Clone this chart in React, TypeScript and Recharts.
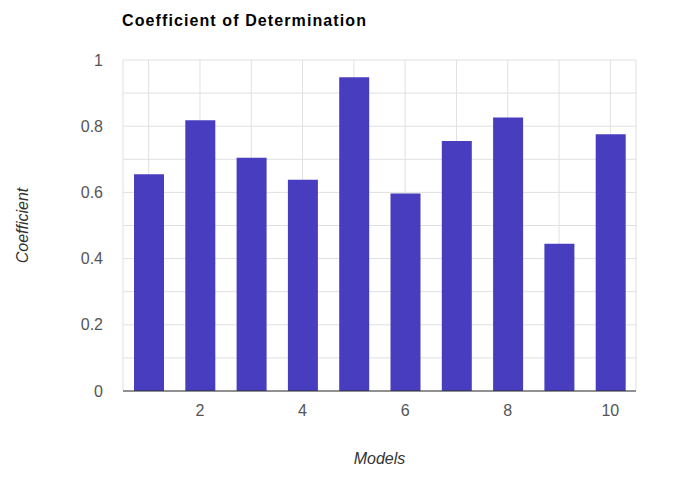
import React from 'react';
import { BarChart, Bar, XAxis, YAxis, CartesianGrid, Label } from 'recharts';

const models = [1, 2, 3, 4, 5, 6, 7, 8, 9, 10];
const coefficients = [0.655, 0.818, 0.705, 0.638, 0.948, 0.597, 0.755, 0.826, 0.445, 0.776];
const xTicks = [1, 2, 3, 4, 5, 6, 7, 8, 9, 10];
const yTicks = [0, 0.1, 0.2, 0.3, 0.4, 0.5, 0.6, 0.7, 0.8, 0.9, 1];

const data = models.map((m, i) => ({ model: m, value: coefficients[i] }));

const font = 'Arial, "Liberation Sans", sans-serif';

const YTitle = (props: any) => {
    const vb = props.viewBox;
    const cx = 22;
    const cy = vb.y + vb.height / 2;
    return (
        <text x={cx} y={cy} transform={`rotate(-90, ${cx}, ${cy})`} textAnchor="middle" dominantBaseline="central"
            fontStyle="italic" fontSize={16} fill="#333" fontFamily={font}>Coefficient</text>
    );
};

const App: React.FC = () => {
    return (
        <div style={{ position: 'absolute', left: 0, top: 0, width: 677, height: 484, background: '#fff', fontFamily: font }}>
            <div style={{ position: 'absolute', left: 122, top: 12, fontSize: 16, fontWeight: 'bold', letterSpacing: 1.1, color: '#000' }}>
                Coefficient of Determination
            </div>
            <BarChart width={677} height={484} data={data} margin={{ top: 60, right: 41, bottom: 18, left: 10 }}>
                <CartesianGrid stroke="#e0e0e0" strokeWidth={1} />
                <XAxis type="number" dataKey="model" domain={[0.5, 10.5]} ticks={xTicks} interval={0}
                    tickFormatter={(v: number) => (v % 2 === 0 ? String(v) : '')}
                    height={75} tickSize={0} tickMargin={14} axisLine={{ stroke: '#333' }}
                    tick={{ fill: '#555', fontSize: 16, fontFamily: font }}>
                    <Label value="Models" position="insideBottom" offset={2}
                        style={{ fontStyle: 'italic', fontSize: 16, fill: '#333', fontFamily: font }} />
                </XAxis>
                <YAxis type="number" domain={[0, 1]} ticks={yTicks} interval={0} width={113}
                    tickFormatter={(v: number) => (Math.round(v * 10) % 2 === 0 ? String(Math.round(v * 10) / 10) : '')}
                    tickSize={0} tickMargin={20} axisLine={false}
                    tick={{ fill: '#555', fontSize: 16, fontFamily: font }}>
                    <Label content={<YTitle />} />
                </YAxis>
                <Bar dataKey="value" fill="#483dbe" barSize={30} isAnimationActive={false} />
            </BarChart>
        </div>
    );
};

export default App;
